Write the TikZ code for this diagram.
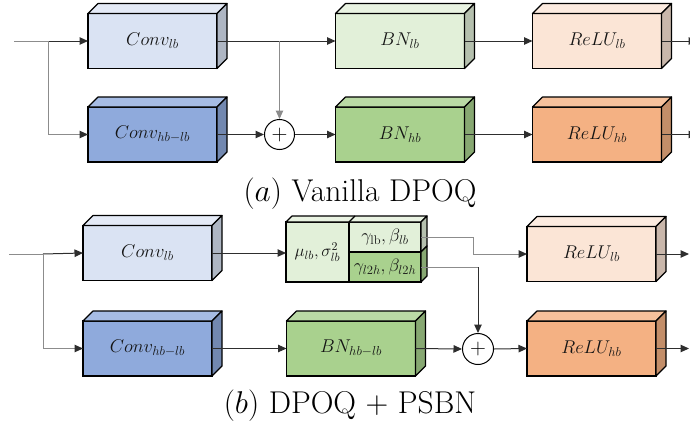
\RequirePackage{fix-cm}
\documentclass[tikz,border=0pt]{standalone}
\usetikzlibrary{arrows.meta,calc}
\definecolor{clF}{HTML}{DAE3F3}\definecolor{clT}{HTML}{E4EAF6}\definecolor{clS}{HTML}{AEB6C3}
\definecolor{chF}{HTML}{8FAADC}\definecolor{chT}{HTML}{A6BCE4}\definecolor{chS}{HTML}{7288B0}
\definecolor{blF}{HTML}{E2F0D9}\definecolor{blT}{HTML}{E9F3E2}\definecolor{blS}{HTML}{B5C0AE}
\definecolor{bhF}{HTML}{A9D18E}\definecolor{bhT}{HTML}{BADAA5}\definecolor{bhS}{HTML}{87A872}
\definecolor{rlF}{HTML}{FBE5D6}\definecolor{rlT}{HTML}{FCEBE0}\definecolor{rlS}{HTML}{C9B7AB}
\definecolor{rhF}{HTML}{F4B183}\definecolor{rhT}{HTML}{F6C19C}\definecolor{rhS}{HTML}{C38E69}
\definecolor{lineC}{HTML}{2E2E2E}\definecolor{branchC}{HTML}{8C8C8C}\definecolor{txtC}{HTML}{141414}
\tikzset{
  cubefront/.style={draw=black, line width=1.2pt, minimum width=129pt, minimum height=55pt,
    inner sep=0pt, outer sep=0pt, font=\fontsize{18.5}{22}\selectfont, text=txtC},
  cell/.style={draw=black, line width=1.2pt, inner sep=0pt, outer sep=0pt,
    font=\fontsize{18}{22}\selectfont, text=txtC},
  face/.style={draw=black, line width=1.2pt, line join=round},
  tip/.style={-{Triangle[length=8.5pt,width=7.5pt]}},
  conn/.style={draw=lineC, line width=1pt, tip},
  branch/.style={draw=branchC, line width=1pt},
  plus/.style={circle, draw=black, line width=1pt, fill=white, minimum size=30pt, inner sep=0pt,
    font=\fontsize{22}{22}\selectfont},
  caption/.style={anchor=base, inner sep=0pt, font=\fontsize{31.5}{34}\selectfont},
}
\newcommand{\cubebox}[7]{%
  \node[cubefront, fill=#3] (#1) at (#2) {#6};
  \filldraw[face, fill=#4] (#1.north west) -- ++(#7,-#7) -- ($(#1.north east)+(#7,-#7)$) -- (#1.north east) -- cycle;
  \filldraw[face, fill=#5] (#1.north east) -- ++(#7,-#7) -- ($(#1.south east)+(#7,-#7)$) -- (#1.south east) -- cycle;
}
\begin{document}
\begin{tikzpicture}[x=1pt,y=-1pt]
\useasboundingbox (0,0) rectangle (690,423);
% ---------- (a) ----------
\coordinate (ina) at (14,41);
\cubebox{acl}{152.5,41}{clF}{clT}{clS}{$Conv_{lb}$}{10}
\cubebox{ach}{152.5,134.5}{chF}{chT}{chS}{$Conv_{hb-lb}$}{10}
\cubebox{abl}{400,41}{blF}{blT}{blS}{$BN_{lb}$}{10}
\cubebox{abh}{400,134.5}{bhF}{bhT}{bhS}{$BN_{hb}$}{10}
\cubebox{arl}{597,41}{rlF}{rlT}{rlS}{$ReLU_{lb}$}{10}
\cubebox{arh}{597,134.5}{rhF}{rhT}{rhS}{$ReLU_{hb}$}{10}
\node[plus] (aplus) at (279.5,134.5) {$+$};
\coordinate (aouta) at (697,41);
\coordinate (aoutb) at (697,134.5);
\coordinate (abr) at (48,41);
\draw[branch] (ina) -- (abr);
\draw[conn] (abr) -- (acl.west);
\draw[branch] (abr) |- ($(ach.west)+(-8,0)$);
\draw[conn] ($(ach.west)+(-8,0)$) -- (ach.west);
\draw[conn] (acl.east) -- (abl.west);
\draw[branch, tip] (aplus |- acl.east) -- (aplus.north);
\draw[conn] (ach.east) -- (aplus.west);
\draw[conn] (aplus.east) -- (abh.west);
\draw[conn] (abl.east) -- (arl.west);
\draw[conn] (abh.east) -- (arh.west);
\draw[conn] (arl.east) -- (aouta);
\draw[conn] (arh.east) -- (aoutb);
\node[caption] (capa) at (360,201) {$(a)$ Vanilla DPOQ};
% ---------- (b) ----------
\coordinate (inb) at (9,254);
\cubebox{bcl}{147.5,253}{clF}{clT}{clS}{$Conv_{lb}$}{10}
\cubebox{bch}{147.5,348.5}{chF}{chT}{chS}{$Conv_{hb-lb}$}{10}
\cubebox{bbh}{351,348.5}{bhF}{bhT}{bhS}{$BN_{hb-lb}$}{10}
\cubebox{brl}{591.5,254}{rlF}{rlT}{rlS}{$ReLU_{lb}$}{10}
\cubebox{brh}{591.5,348.5}{rhF}{rhT}{rhS}{$ReLU_{hb}$}{10}
% PSBN block
\node[cell, fill=blF, minimum width=63pt, minimum height=60pt, font=\fontsize{17}{20}\selectfont] (pmu) at (317.5,252) {$\mu_{lb},\sigma^2_{lb}$};
\node[cell, fill=blF, minimum width=72pt, minimum height=30pt] (pg1) at (385,237) {$\gamma_{\mathrm{lb}},\beta_{lb}$};
\node[cell, fill=bhF, minimum width=72pt, minimum height=30pt] (pg2) at (385,267) {$\gamma_{l2h},\beta_{l2h}$};
\filldraw[face, fill=blT] (pmu.north west) -- ++(6,-6) -- ($(pg1.north east)+(6,-6)$) -- (pg1.north east) -- cycle;
\draw[face] (pg1.north west) -- ++(6,-6);
\filldraw[face, fill=blS] (pg1.north east) -- ++(6,-6) -- ($(pg1.south east)+(6,-6)$) -- (pg1.south east) -- cycle;
\filldraw[face, fill=bhS] (pg2.north east) -- ++(6,-6) -- ($(pg2.south east)+(6,-6)$) -- (pg2.south east) -- cycle;
\node[plus, minimum size=31pt] (bplus) at (478,349) {$+$};
\coordinate (bbr) at (43,254);
\coordinate (bouta) at (689,254);
\coordinate (boutb) at (689,348.5);
\coordinate (bk1) at (473,237);
\coordinate (bk2) at (478,267);
\draw[branch] (inb) -- (bbr);
\draw[conn] (bbr) -- (bcl.west);
\draw[branch] (bbr) |- ($(bch.west)+(-8,0)$);
\draw[conn] ($(bch.west)+(-8,0)$) -- (bch.west);
\draw[conn] (bcl.east) -- (pmu.west |- bcl.east);
\draw[conn] (bch.east) -- (bbh.west);
\draw[branch] (pg1.east) -- (bk1) |- ($(brl.west)+(-8,0)$);
\draw[conn] ($(brl.west)+(-8,0)$) -- (brl.west);
\draw[branch] (pg2.east) -- (bk2);
\draw[conn] (bk2) -- (bplus.north);
\draw[conn] (bbh.east) -- (bplus.west);
\draw[conn] (bplus.east) -- (brh.west);
\draw[conn] (brl.east) -- (bouta);
\draw[conn] (brh.east) -- (boutb);
\node[caption] (capb) at (350,413) {$(b)$ DPOQ $+$ PSBN};
\end{tikzpicture}
\end{document}
